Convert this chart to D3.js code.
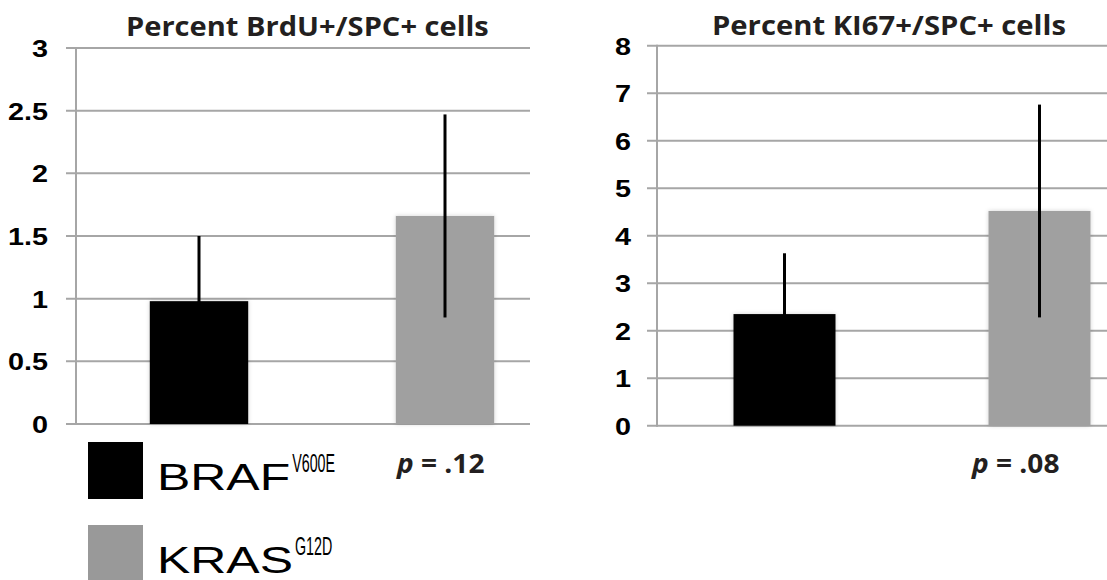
<!DOCTYPE html>
<html>
<head>
<meta charset="utf-8">
<script src="https://cdn.jsdelivr.net/npm/d3@7"></script>
<style>
  body { margin: 0; background: #fff; }
  svg { display: block; }
</style>
</head>
<body>
<svg id="chart" width="1107" height="580"></svg>
<script>
// data
const groups = ["BRAF", "KRAS"];
const groupSup = ["V600E", "G12D"];
const brduMean = [0.98, 1.66];
const brduErr = [0.52, 0.81];
const ki67Mean = [2.35, 4.52];
const ki67Err = [1.28, 2.24];
const brduTicks = [0, 0.5, 1, 1.5, 2, 2.5, 3];
const ki67Ticks = [0, 1, 2, 3, 4, 5, 6, 7, 8];
const pValues = [".12", ".08"];
const titles = ["Percent BrdU+/SPC+ cells", "Percent KI67+/SPC+ cells"];

const colors = ["#050606", "#a0a0a0"];
const gridColor = "#a6a6a6";

const svg = d3.select("#chart");

const defs = svg.append("defs");
const f = defs.append("filter").attr("id", "shadow")
  .attr("x", "-10%").attr("y", "-10%").attr("width", "120%").attr("height", "120%");
f.append("feDropShadow").attr("dx", 0).attr("dy", 0).attr("stdDeviation", 2)
  .attr("flood-color", "#000").attr("flood-opacity", 0.18);

function panel(opt) {
  const x = d3.scaleBand().domain(groups).range(opt.xRange)
    .paddingInner(0.6).paddingOuter(0.3);
  const y = d3.scaleLinear().domain(opt.domain).range(opt.yRange);
  const g = svg.append("g");
  const x0 = opt.xRange[0];

  // gridlines + ticks
  g.selectAll("line.grid").data(opt.ticks).join("line")
    .attr("class", "grid")
    .attr("x1", x0 - 10).attr("x2", opt.gridEnd)
    .attr("y1", d => y(d)).attr("y2", d => y(d))
    .attr("stroke", gridColor).attr("stroke-width", 2);

  // axis line
  g.append("line")
    .attr("x1", x0).attr("x2", x0)
    .attr("y1", y(opt.domain[1]) - 1).attr("y2", y(0) + 1)
    .attr("stroke", gridColor).attr("stroke-width", 2);

  // tick labels
  g.selectAll("text.tick").data(opt.ticks).join("text")
    .attr("class", "tick")
    .attr("transform", d => `translate(${opt.labelX},${y(d) + 9}) scale(1.2,1)`)
    .attr("text-anchor", "end")
    .attr("font-family", "Liberation Sans, Arial, sans-serif")
    .attr("font-weight", "bold")
    .attr("font-size", 24)
    .attr("fill", "#000")
    .text(d => d);

  // bars
  g.selectAll("rect.bar").data(opt.mean).join("rect")
    .attr("class", "bar")
    .attr("x", (d, i) => x(groups[i]))
    .attr("width", x.bandwidth())
    .attr("y", d => y(d))
    .attr("height", d => y(0) - y(d))
    .attr("fill", (d, i) => colors[i])
    .attr("filter", "url(#shadow)");

  // error bars
  g.selectAll("line.err").data(opt.mean).join("line")
    .attr("class", "err")
    .attr("x1", (d, i) => x(groups[i]) + x.bandwidth() / 2)
    .attr("x2", (d, i) => x(groups[i]) + x.bandwidth() / 2)
    .attr("y1", (d, i) => y(d + opt.err[i]))
    .attr("y2", (d, i) => y(d - opt.err[i]))
    .attr("stroke", "#000").attr("stroke-width", 3);

  // title, fitted to its width
  const t = g.append("text")
    .attr("font-family", "Open Sans, sans-serif")
    .attr("font-weight", "bold")
    .attr("font-size", 26)
    .attr("fill", "#231f20")
    .text(opt.title);
  const len = t.node().getComputedTextLength();
  t.attr("transform", `translate(${opt.titleX[0]},${opt.titleY}) scale(${(opt.titleX[1] - opt.titleX[0]) / len},1)`);

  // p value
  const p = g.append("text")
    .attr("transform", `translate(${opt.pX},473) scale(1.08,1)`)
    .attr("font-family", "Open Sans, sans-serif")
    .attr("font-weight", "bold")
    .attr("font-size", 26)
    .attr("fill", "#231f20");
  p.append("tspan").attr("font-style", "italic").text("p");
  p.append("tspan").text(" = " + opt.p);
}

panel({
  xRange: [76, 568], yRange: [424, 48], domain: [0, 3], ticks: brduTicks,
  gridEnd: 530, labelX: 48, mean: brduMean, err: brduErr,
  title: titles[0], titleX: [126, 489], titleY: 36, pX: 397, p: pValues[0]
});
panel({
  xRange: [657, 1167], yRange: [425.7, 45.7], domain: [0, 8], ticks: ki67Ticks,
  gridEnd: 1107, labelX: 631, mean: ki67Mean, err: ki67Err,
  title: titles[1], titleX: [712, 1066], titleY: 35, pX: 972, p: pValues[1]
});

// legend
const legend = svg.append("g");
const legendColors = ["#000", "#999"];
groups.forEach((name, i) => {
  const top = 442 + i * 83;
  const base = top + 48;
  legend.append("rect")
    .attr("x", 88).attr("y", top).attr("width", 55).attr("height", 57)
    .attr("fill", legendColors[i]);
  const t = legend.append("text")
    .attr("transform", `translate(157,${base}) scale(1.35,1)`)
    .attr("font-family", "Liberation Sans, Arial, sans-serif")
    .attr("font-size", 37)
    .attr("fill", "#000")
    .text(name);
  const w = t.node().getComputedTextLength() * 1.35;
  legend.append("text")
    .attr("transform", `translate(${157 + w + 2},${base - 18}) scale(0.55,1)`)
    .attr("font-family", "Liberation Sans, Arial, sans-serif")
    .attr("font-size", 26)
    .attr("fill", "#000")
    .text(groupSup[i]);
});
</script>
</body>
</html>
